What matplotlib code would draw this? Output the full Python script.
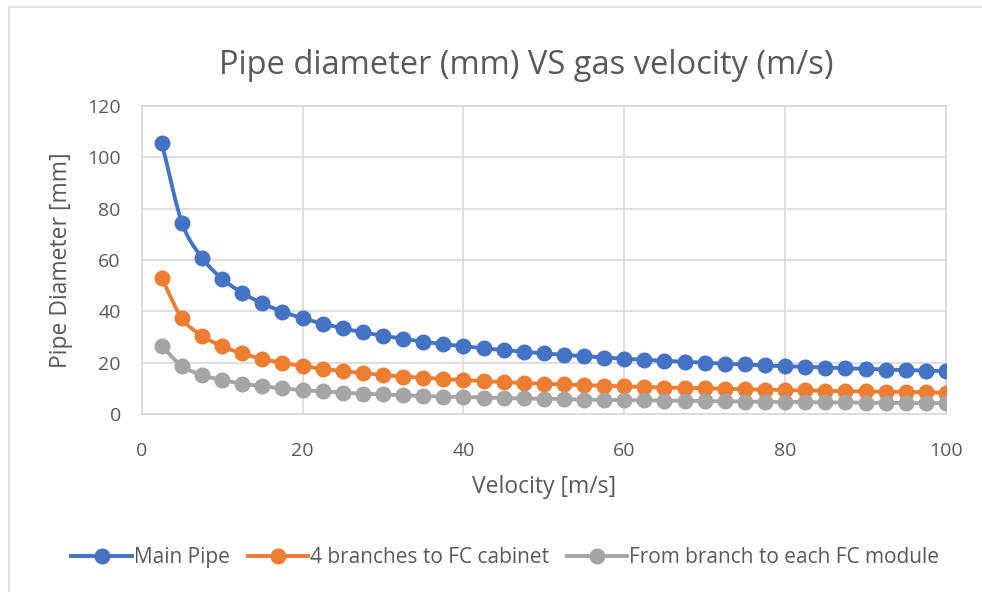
import numpy as np
import matplotlib.pyplot as plt
from matplotlib.patches import Rectangle

velocity = [2.5, 5, 7.5, 10, 12.5, 15, 17.5, 20, 22.5, 25, 27.5, 30, 32.5, 35, 37.5, 40,
            42.5, 45, 47.5, 50, 52.5, 55, 57.5, 60, 62.5, 65, 67.5, 70, 72.5, 75, 77.5, 80,
            82.5, 85, 87.5, 90, 92.5, 95, 97.5, 100]

main_pipe = [105.5, 74.6, 60.9, 52.7, 47.2, 43.1, 39.9, 37.3, 35.2, 33.4, 31.8, 30.5, 29.3,
             28.2, 27.2, 26.4, 25.6, 24.9, 24.2, 23.6, 23.0, 22.5, 22.0, 21.5, 21.1, 20.7,
             20.3, 19.9, 19.6, 19.3, 18.9, 18.6, 18.4, 18.1, 17.8, 17.6, 17.3, 17.1, 16.9, 16.7]

branches = [52.8, 37.3, 30.5, 26.4, 23.6, 21.5, 19.9, 18.7, 17.6, 16.7, 15.9, 15.2, 14.6,
            14.1, 13.6, 13.2, 12.8, 12.4, 12.1, 11.8, 11.5, 11.2, 11.0, 10.8, 10.5, 10.3,
            10.2, 10.0, 9.8, 9.6, 9.5, 9.3, 9.2, 9.0, 8.9, 8.8, 8.7, 8.6, 8.4, 8.3]

fc_module = [26.4, 18.7, 15.2, 13.2, 11.8, 10.8, 10.0, 9.3, 8.8, 8.3, 7.9, 7.6, 7.3, 7.0,
             6.8, 6.6, 6.4, 6.2, 6.1, 5.9, 5.8, 5.6, 5.5, 5.4, 5.3, 5.2, 5.1, 5.0, 4.9,
             4.8, 4.7, 4.7, 4.6, 4.5, 4.5, 4.4, 4.3, 4.3, 4.2, 4.2]

series_names = ["Main Pipe", "4 branches to FC cabinet", "From branch to each FC module"]
colors = ["#4472C4", "#ED7D31", "#A5A5A5"]

TEXT = "#595959"
GRID = "#D9D9D9"
plt.rcParams['font.family'] = ['Open Sans', 'DejaVu Sans']


def smooth_path(x, y, n=12):
    # Catmull-Rom 曲線，讓折線看起來平滑
    x = np.asarray(x, float)
    y = np.asarray(y, float)
    px = np.concatenate([[2 * x[0] - x[1]], x, [2 * x[-1] - x[-2]]])
    py = np.concatenate([[2 * y[0] - y[1]], y, [2 * y[-1] - y[-2]]])
    t = np.linspace(0, 1, n, endpoint=False)
    xs, ys = [], []
    for i in range(1, len(px) - 2):
        for arr, out in ((px, xs), (py, ys)):
            p0, p1, p2, p3 = arr[i - 1], arr[i], arr[i + 1], arr[i + 2]
            out.extend(0.5 * ((2 * p1) + (-p0 + p2) * t
                              + (2 * p0 - 5 * p1 + 4 * p2 - p3) * t ** 2
                              + (-p0 + 3 * p1 - 3 * p2 + p3) * t ** 3))
    xs.append(x[-1])
    ys.append(y[-1])
    return np.array(xs), np.array(ys)


fig = plt.figure(figsize=(9.82, 5.92), dpi=100)
# 外框（右、下延伸到圖外）
fig.patches.append(Rectangle((8.5 / 982, -0.05), 1.0, 1 - 7 / 592 + 0.05,
                             transform=fig.transFigure, fill=False,
                             edgecolor=GRID, linewidth=1.2))

ax = fig.add_axes([0.1443, 0.3007, 0.8190, 0.5203])

for name, vals, c in zip(series_names, [main_pipe, branches, fc_module], colors):
    sx, sy = smooth_path(velocity, vals)
    ax.plot(sx, sy, color=c, linewidth=2.8, solid_capstyle='round', zorder=3)
    ax.plot(velocity, vals, linestyle='none', marker='o', markersize=10.5,
            color=c, zorder=4)
    ax.plot([], [], color=c, linewidth=2.8, marker='o', markersize=10.5, label=name)

ax.set_xlim(0, 100)
ax.set_ylim(0, 120)
ax.set_xticks(range(0, 101, 20))
ax.set_yticks(range(0, 121, 20))
ax.grid(True, color=GRID, linewidth=1.2)
ax.set_axisbelow(True)
for side in ['top', 'right', 'left', 'bottom']:
    ax.spines[side].set_color(GRID)
    ax.spines[side].set_linewidth(1.2)
ax.tick_params(length=0, labelsize=14, colors=TEXT)
ax.tick_params(axis='x', pad=20)
ax.tick_params(axis='y', pad=15)

ax.set_xlabel("Velocity [m/s]", fontsize=16.5, color=TEXT, labelpad=11)
ax.set_ylabel("Pipe Diameter [mm]", fontsize=16.5, color=TEXT, labelpad=10)
fig.text(0.5356, 0.89, "Pipe diameter (mm) VS gas velocity (m/s)", ha='center',
         va='center', fontsize=23.5, color=TEXT)

fig.legend(loc='center', bbox_to_anchor=(0.5147, 0.058), ncol=3, frameon=False,
           fontsize=15, labelcolor=TEXT, handlelength=2.9, handletextpad=0.1,
           columnspacing=0.85)

fig.savefig("out.png", dpi=100)
